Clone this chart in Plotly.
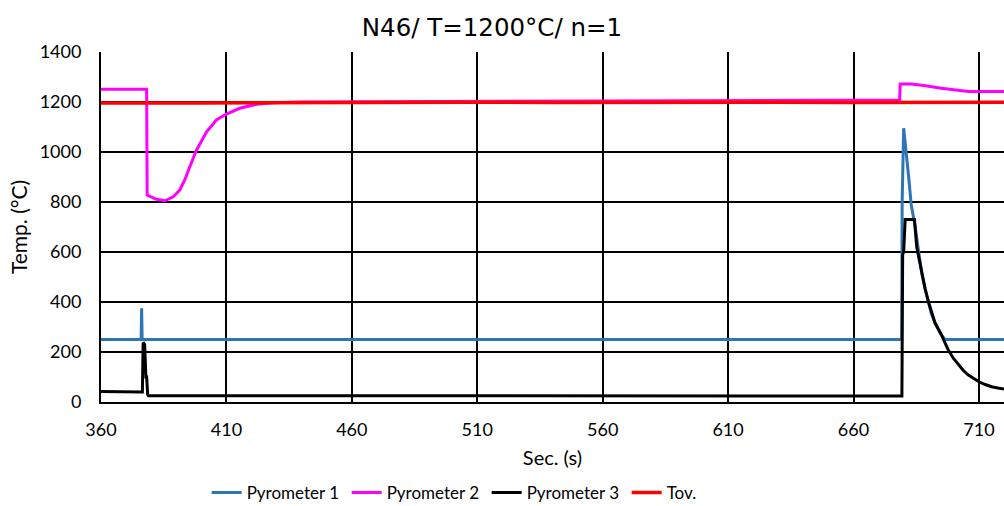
import plotly.graph_objects as go

# Pyrometer 1 (blue)
p1_t = [360, 376.0, 376.2, 376.4, 679.2, 679.4, 680.0, 681.0, 682.0, 683.0, 684.6, 686.0, 687.2, 688.5, 689.9, 691.0, 692.5, 694.0, 695.0, 696.5, 720]
p1_v = [250, 250, 375, 250, 250, 800, 1095, 1010, 900, 790, 700, 600, 516, 455, 396, 355, 316, 285, 268, 250, 250]

# Pyrometer 2 (magenta)
p2_t = [360, 378.2, 378.4, 382.1, 385.5, 388.8, 391.4, 393.4, 395.4, 398.1, 402.1, 406.0, 410.0, 415.3, 422.0, 428.6, 440, 470, 520, 580, 640, 678.4, 678.6, 683, 688, 695, 705.8, 712, 720]
p2_v = [1251, 1251, 828, 811, 805, 821, 848, 888, 941, 1008, 1081, 1128, 1152, 1175, 1191, 1197, 1200, 1201, 1202, 1203, 1205, 1208, 1272, 1272, 1266, 1255, 1242, 1242, 1242]

# Pyrometer 3 (black)
p3_t = [360, 370, 376.5, 376.8, 377.4, 377.9, 378.2, 378.6, 378.9, 390, 500, 600, 679.3, 679.6, 680.0, 680.6, 684.3, 685.2, 686.2, 687.2, 688.5, 689.9, 691.2, 692.5, 693.8, 695.0, 696.4, 697.8, 699.8, 701.8, 703.8, 705.8, 708.0, 710.0, 712.5, 715.1, 717.5, 720]
p3_v = [42, 40, 40, 238, 230, 100, 100, 30, 25, 25, 24, 24, 24, 590, 600, 730, 730, 620, 565, 516, 455, 400, 355, 316, 292, 270, 238, 208, 175, 148, 126, 108, 93, 81, 70, 61, 56, 52]

# Tov. (red)
tov_t = [360, 370, 380, 390, 400, 420, 450, 480, 510, 540, 570, 600, 630, 660, 680, 700, 720]
tov_v = [1196, 1197, 1195, 1196, 1196, 1197, 1198, 1198, 1199, 1198, 1199, 1199, 1199, 1198, 1198, 1200, 1199]

x_ticks = [360, 410, 460, 510, 560, 610, 660, 710]
y_ticks = [0, 200, 400, 600, 800, 1000, 1200, 1400]

fig = go.Figure()
fig.add_trace(go.Scatter(x=p1_t, y=p1_v, mode="lines", name="Pyrometer 1",
                         line=dict(color="#2E75B6", width=3)))
fig.add_trace(go.Scatter(x=p2_t, y=p2_v, mode="lines", name="Pyrometer 2",
                         line=dict(color="#FF00FF", width=3)))
fig.add_trace(go.Scatter(x=p3_t, y=p3_v, mode="lines", name="Pyrometer 3",
                         line=dict(color="#000000", width=3)))
fig.add_trace(go.Scatter(x=tov_t, y=tov_v, mode="lines", name="Tov.",
                         line=dict(color="#FF0000", width=3.5)))

font_family = "Lato, 'Noto Sans', sans-serif"
fig.update_layout(
    width=1004, height=506,
    margin=dict(l=101, r=0, t=52, b=104, autoexpand=False),
    paper_bgcolor="white", plot_bgcolor="white",
    font=dict(family=font_family, color="#000000"),
    title=dict(text="N46/ T=1200°C/ n=1", x=0.49, xanchor="center", y=0.945, yanchor="middle",
               font=dict(size=24.5, color="#000000", family="'DejaVu Sans', sans-serif")),
    showlegend=True,
    legend=dict(orientation="h", x=0.117, xanchor="left", y=-0.26, yanchor="middle",
                font=dict(size=17, color="#000000"), entrywidth=95, entrywidthmode="pixels",
                traceorder="normal"),
)
fig.update_xaxes(range=[360, 720], tickvals=x_ticks, ticks="", showgrid=True,
                 gridcolor="#000000", gridwidth=2, showline=True, linecolor="#000000",
                 linewidth=2, zeroline=False, tickfont=dict(size=18), ticklabelstandoff=10,
                 title=dict(text="Sec. (s)", font=dict(size=20), standoff=12))
fig.update_yaxes(range=[0, 1400], tickvals=y_ticks, ticks="", showgrid=True,
                 gridcolor="#000000", gridwidth=2, showline=True, linecolor="#000000",
                 linewidth=2, zeroline=False, tickfont=dict(size=18), ticklabelstandoff=14,
                 title=dict(text="Temp. (°C)", font=dict(size=21), standoff=6))

fig.write_html("out.html", config={"displayModeBar": False},
               post_script="document.body.style.margin='0';document.body.style.overflow='hidden';")
